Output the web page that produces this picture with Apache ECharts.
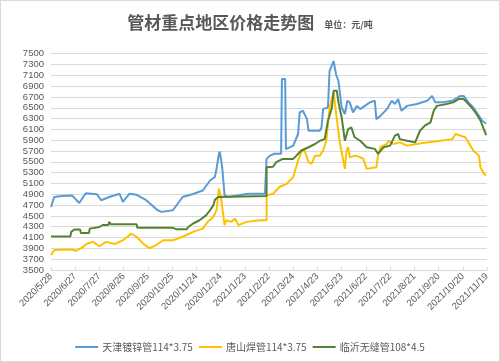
<!DOCTYPE html>
<html><head><meta charset="utf-8">
<script src="https://cdn.jsdelivr.net/npm/echarts@6/dist/echarts.min.js"></script>
<style>html,body{margin:0;padding:0;background:#fff}#c{width:498px;height:360px;border:1px solid #d9d9d9}</style>
</head><body><div id="c"></div>
<script>
// x = days since 2020/5/28
var tickLabels = ['2020/5/28','2020/6/27','2020/7/27','2020/8/26','2020/9/25','2020/10/25','2020/11/24','2020/12/24','2021/1/23','2021/2/22','2021/3/24','2021/4/23','2021/5/23','2021/6/22','2021/7/22','2021/8/21','2021/9/20','2021/10/20','2021/11/19'];
var seriesNames = ['天津镀锌管114*3.75','唐山焊管114*3.75','临沂无缝管108*4.5'];

var tjDay = [0,4,13,26,35,43,57,62,72,85,89,97,106,118,132,137,151,163,175,188,197,203,205,208,209,212,215,219,244,265,267,271,277,285,286,290,291,300,306,308,312,317,319,333,335,337,343,345,350,353,356,360,364,367,370,374,379,383,395,401,403,408,416,422,426,430,434,441,453,466,472,476,484,497,507,511,517,523,530,534,539];
var tjVal = [4665,4850,4870,4880,4740,4920,4900,4790,4850,4910,4760,4910,4890,4790,4605,4575,4605,4850,4900,4970,5155,5220,5370,5650,5690,5400,4880,4850,4910,4910,5555,5615,5650,5650,7030,7030,5735,5800,6015,6415,6445,6290,6075,6075,6135,6475,6505,7180,7365,7120,6995,6505,6385,6630,6600,6415,6535,6475,6600,6630,6290,6350,6475,6630,6570,6660,6445,6535,6570,6630,6720,6600,6600,6630,6720,6720,6600,6505,6350,6260,6210];

var tsDay = [0,4,25,31,37,45,52,60,68,79,89,95,99,106,114,122,130,139,151,163,176,188,194,201,205,208,211,215,217,223,228,232,242,259,267,267,275,283,292,300,306,310,314,319,323,327,333,337,341,345,350,354,358,362,364,366,368,370,377,383,387,391,403,405,408,416,418,424,432,441,453,466,482,497,501,507,513,517,523,530,532,536,539];
var tsVal = [3775,3870,3880,3855,3900,3990,4020,3940,4020,3980,4050,4115,4175,4115,3990,3900,3960,4050,4050,4115,4205,4265,4390,4480,4605,5005,4790,4330,4420,4390,4450,4330,4390,4420,4420,4880,4910,5035,5095,5220,5525,5680,5710,5495,5465,5615,5615,5710,5890,6505,6785,6290,5830,5525,5370,5710,5770,5585,5615,5585,5555,5370,5400,5615,5770,5830,5890,5830,5860,5800,5830,5860,5890,5920,6015,5985,5955,5860,5710,5615,5400,5280,5250];

var lyDay = [0,24,25,29,36,37,47,48,60,64,71,72,74,106,107,151,155,168,170,176,184,192,197,201,203,207,209,267,267,275,279,287,300,304,310,319,327,333,339,343,348,350,354,356,360,364,368,372,376,383,391,401,405,412,420,426,430,432,441,451,457,463,470,474,478,490,498,505,511,515,521,527,532,536,539];
var lyVal = [4120,4120,4205,4250,4250,4185,4185,4265,4295,4330,4330,4390,4345,4345,4280,4280,4255,4255,4295,4360,4420,4510,4605,4695,4800,4850,4880,4870,5400,5410,5495,5555,5555,5615,5710,5770,5830,5890,5920,6260,6505,6815,6815,6600,6320,5890,6105,6135,5955,5890,5770,5740,5650,5770,5800,5985,6015,5920,5890,5860,6075,6170,6230,6445,6535,6570,6600,6660,6660,6600,6505,6385,6260,6105,5995];

function pairs(d, v){ return d.map(function(x,i){ return [x, v[i]]; }); }
var colors = ['#5B9BD5','#FFC000','#548235'];
var datas = [pairs(tjDay,tjVal), pairs(tsDay,tsVal), pairs(lyDay,lyVal)];

var chart = echarts.init(document.getElementById('c'));
var lbl = {color:'#595959', fontFamily:'Liberation Sans, sans-serif', fontSize:9.5};
chart.setOption({
  animation:false,
  title:{
    left:'center', top:8,
    text:'{a|管材重点地区价格走势图}  {b|单位：元/吨}',
    textStyle:{rich:{
      a:{fontSize:17, fontWeight:'bold', color:'#595959', fontFamily:'Noto Sans CJK SC'},
      b:{fontSize:9, fontWeight:'bold', color:'#595959', fontFamily:'Noto Sans CJK SC', padding:[3,0,0,0]}
    }}
  },
  legend:{
    top:336, left:'center', itemWidth:23, itemHeight:2, itemGap:6, icon:'rect',
    textStyle:{color:'#595959', fontSize:10, fontFamily:'Noto Sans CJK SC, Liberation Sans', padding:[0,0,0,-1]},
    data:seriesNames
  },
  grid:{left:50, right:12, top:52.7, bottom:91, containLabel:false},
  xAxis:{
    type:'value', min:0, max:540, interval:30,
    axisLine:{show:true, lineStyle:{color:'#d9d9d9'}},
    axisTick:{show:true, inside:true, length:3, lineStyle:{color:'#d9d9d9'}},
    splitLine:{show:false},
    axisLabel:Object.assign({rotate:45, margin:5, showMinLabel:true, showMaxLabel:true,
      formatter:function(v){ return tickLabels[Math.round(v/30)] || ''; }}, lbl)
  },
  yAxis:{
    type:'value', min:3500, max:7500, interval:200,
    axisLine:{show:false}, axisTick:{show:false},
    splitLine:{lineStyle:{color:'#d9d9d9', width:1}},
    axisLabel:Object.assign({margin:7, formatter:function(v){ return String(v); }}, lbl)
  },
  series:seriesNames.map(function(n,i){
    return {name:n, type:'line', data:datas[i], showSymbol:false, symbol:'none',
      lineStyle:{color:colors[i], width:2}, itemStyle:{color:colors[i]}};
  })
});
</script></body></html>
